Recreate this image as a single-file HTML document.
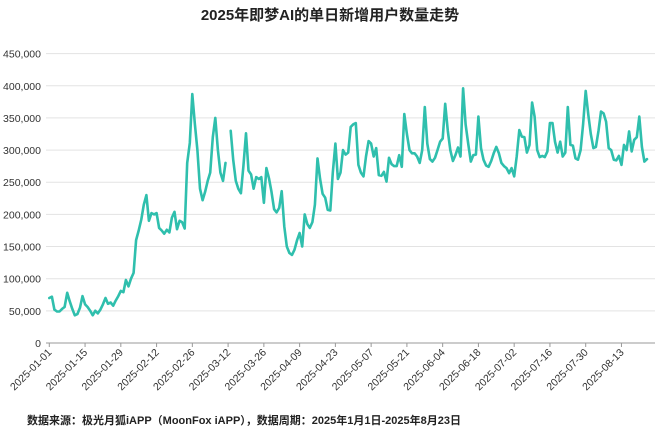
<!DOCTYPE html>
<html><head><meta charset="utf-8">
<style>
html,body{margin:0;padding:0;background:#fff;}
body{width:660px;height:431px;overflow:hidden;font-family:"Liberation Sans","Noto Sans CJK SC",sans-serif;}
</style></head>
<body>
<svg id="chart" width="660" height="431" xmlns="http://www.w3.org/2000/svg">
<text x="330" y="20" text-anchor="middle" font-size="15" font-weight="bold" fill="#222" font-family="Liberation Sans, Noto Sans CJK SC, sans-serif">2025年即梦AI的单日新增用户数量走势</text>
<text x="27" y="424" font-size="11" font-weight="bold" fill="#222" font-family="Liberation Sans, Noto Sans CJK SC, sans-serif">数据来源：极光月狐iAPP（MoonFox iAPP），数据周期：2025年1月1日-2025年8月23日</text>
<g id="grid"></g><g id="yaxis"></g><g id="xaxis"></g><g id="series"></g>
</svg>
<script>
const yTicks=[0,50000,100000,150000,200000,250000,300000,350000,400000,450000];
const xTickLabels=["2025-01-01","2025-01-15","2025-01-29","2025-02-12","2025-02-26","2025-03-12","2025-03-26","2025-04-09","2025-04-23","2025-05-07","2025-05-21","2025-06-04","2025-06-18","2025-07-02","2025-07-16","2025-07-30","2025-08-13"];
const values=[70000,72000,52000,49000,49000,53000,56000,78000,65000,53000,43000,45000,55000,73000,60000,56000,50000,43000,50000,46000,
52000,60000,70000,61000,63000,58000,66000,73000,81000,79000,98000,88000,100000,109000,160000,175000,192000,215000,230000,190000,
202000,200000,202000,179000,175000,170000,176000,172000,195000,204000,177000,190000,188000,178000,280000,311000,387000,340000,300000,240000,
222000,235000,252000,265000,320000,350000,300000,265000,252000,280000,null,330000,285000,252000,240000,233000,275000,326000,268000,262000,
240000,258000,255000,258000,218000,272000,256000,235000,208000,203000,210000,236000,181000,150000,140000,137000,145000,160000,171000,150000,
200000,185000,179000,188000,215000,287000,255000,232000,226000,207000,206000,265000,310000,255000,265000,300000,293000,296000,336000,340000,
342000,277000,265000,259000,290000,314000,310000,290000,303000,261000,260000,266000,251000,288000,278000,275000,275000,292000,274000,356000,
325000,300000,295000,295000,290000,280000,300000,367000,310000,286000,282000,288000,300000,313000,318000,372000,330000,300000,283000,292000,
304000,290000,396000,340000,310000,282000,292000,293000,352000,303000,285000,276000,274000,283000,295000,305000,295000,280000,275000,272000,
264000,272000,259000,290000,331000,321000,320000,296000,308000,374000,352000,300000,289000,291000,289000,298000,342000,342000,313000,296000,
313000,290000,296000,367000,308000,307000,287000,285000,300000,340000,392000,355000,325000,303000,305000,330000,360000,357000,344000,303000,
300000,285000,284000,291000,277000,308000,300000,329000,298000,316000,320000,352000,305000,282000,286000];
const NS="http://www.w3.org/2000/svg";
const x0=49.3,x1=647,yBase=343,yTop=53.6,plotL=46,plotR=655;
const xs=i=>x0+i*(x1-x0)/(values.length-1);
const ys=v=>yBase-(v/450000)*(yBase-yTop);
function mk(tag,attrs,parent){const e=document.createElementNS(NS,tag);for(const k in attrs)e.setAttribute(k,attrs[k]);parent.appendChild(e);return e;}
const grid=document.getElementById('grid'),ya=document.getElementById('yaxis'),xa=document.getElementById('xaxis'),se=document.getElementById('series');
yTicks.forEach(t=>{const y=ys(t);
 if(t>0){const g=mk('line',{x1:plotL,x2:plotR,y1:y,y2:y,stroke:'#e3e3e3','stroke-width':1},grid);
 
 }
 const l=mk('text',{x:41,y:y+4,'text-anchor':'end','font-size':10.5,fill:'#333'},ya);
 
 
 l.textContent=t.toLocaleString('en-US');});
const ax=mk('line',{x1:plotL,x2:plotR,y1:yBase,y2:yBase,stroke:'#999','stroke-width':1},xa);


xTickLabels.forEach((lab,k)=>{const x=xs(k*14);
 const tk=mk('line',{x1:x,x2:x,y1:yBase,y2:yBase+4,stroke:'#999'},xa);
 
 
 const t=mk('text',{x:x+3,y:yBase+10,'text-anchor':'end','font-size':10.5,fill:'#333',transform:`rotate(-45 ${x+3} ${yBase+10})`},xa);
 
 
 t.textContent=lab;});
let d='',pen=false;
values.forEach((v,i)=>{if(v===null){pen=false;return;}d+=(pen?'L':'M')+xs(i).toFixed(1)+' '+ys(v).toFixed(1)+' ';pen=true;});
const p=mk('path',{d:d,fill:'none',stroke:'#2fbfad','stroke-width':2.6,'stroke-linejoin':'round','stroke-linecap':'round'},se);


</script>
</body></html>
